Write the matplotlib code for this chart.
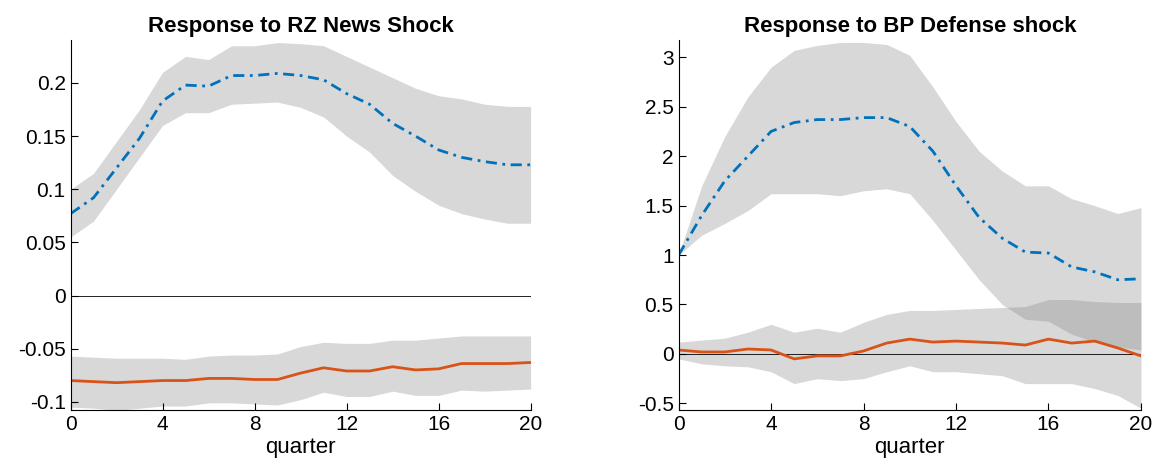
import matplotlib
matplotlib.use("Agg")
import matplotlib.pyplot as plt
import numpy as np
plt.rcParams['font.family'] = ['Liberation Sans', 'DejaVu Sans']

q = np.arange(21)
# Left panel: RZ News Shock
L_blue = [0.077,0.092,0.12,0.148,0.183,0.198,0.197,0.207,0.207,0.209,0.207,0.203,0.19,0.18,0.162,0.15,0.137,0.13,0.126,0.123,0.123]
L_blue_hi = [0.1,0.115,0.145,0.175,0.21,0.225,0.222,0.235,0.235,0.238,0.237,0.235,0.225,0.215,0.205,0.195,0.188,0.185,0.18,0.178,0.178]
L_blue_lo = [0.055,0.07,0.1,0.13,0.16,0.172,0.172,0.18,0.181,0.182,0.177,0.168,0.15,0.135,0.113,0.098,0.085,0.077,0.072,0.068,0.068]
L_red = [-0.08,-0.081,-0.082,-0.081,-0.08,-0.08,-0.078,-0.078,-0.079,-0.079,-0.073,-0.068,-0.071,-0.071,-0.067,-0.07,-0.069,-0.064,-0.064,-0.064,-0.063]
L_red_hi = [-0.057,-0.058,-0.059,-0.059,-0.059,-0.06,-0.057,-0.056,-0.056,-0.055,-0.048,-0.044,-0.045,-0.045,-0.042,-0.042,-0.04,-0.038,-0.038,-0.038,-0.038]
L_red_lo = [-0.105,-0.106,-0.108,-0.106,-0.104,-0.104,-0.101,-0.101,-0.102,-0.103,-0.098,-0.091,-0.095,-0.095,-0.09,-0.094,-0.094,-0.089,-0.09,-0.089,-0.088]
# Right panel: BP Defense shock
R_blue = [1.0,1.4,1.75,2.0,2.25,2.34,2.37,2.37,2.39,2.39,2.3,2.05,1.7,1.38,1.17,1.03,1.02,0.88,0.83,0.75,0.76]
R_blue_hi = [1.0,1.7,2.2,2.6,2.9,3.07,3.12,3.15,3.15,3.13,3.02,2.7,2.35,2.05,1.85,1.7,1.7,1.57,1.5,1.42,1.48]
R_blue_lo = [1.0,1.2,1.32,1.45,1.62,1.62,1.62,1.6,1.65,1.67,1.62,1.35,1.05,0.75,0.5,0.35,0.33,0.2,0.12,0.07,0.04]
R_red = [0.04,0.02,0.02,0.05,0.04,-0.05,-0.02,-0.02,0.03,0.11,0.15,0.12,0.13,0.12,0.11,0.09,0.15,0.11,0.13,0.06,-0.02]
R_red_hi = [0.12,0.14,0.16,0.22,0.3,0.22,0.26,0.22,0.32,0.4,0.44,0.44,0.45,0.46,0.47,0.48,0.55,0.55,0.53,0.52,0.52]
R_red_lo = [-0.05,-0.1,-0.12,-0.13,-0.18,-0.3,-0.25,-0.27,-0.25,-0.18,-0.12,-0.18,-0.18,-0.2,-0.22,-0.3,-0.3,-0.3,-0.35,-0.42,-0.55]

blue = "#0072BD"; red = "#D95319"
fig = plt.figure(figsize=(11.56, 4.76), dpi=100)
ax1 = fig.add_axes([0.061, 0.138, 0.398, 0.777])
ax2 = fig.add_axes([0.587, 0.138, 0.400, 0.777])

def panel(ax, b, bh, bl, r, rh, rl, title, ylim, yticks, ylabels):
    ax.fill_between(q, bl, bh, color="#808080", alpha=0.3, lw=0)
    ax.fill_between(q, rl, rh, color="#808080", alpha=0.3, lw=0)
    ax.axhline(0, color="black", lw=0.6)
    ax.plot(q, b, color=blue, lw=2, dashes=(4, 2, 1, 2))
    ax.plot(q, r, color=red, lw=2)
    ax.set_xlim(0, 20); ax.set_ylim(*ylim)
    ax.set_xticks([0,4,8,12,16,20])
    ax.set_yticks(yticks); ax.set_yticklabels(ylabels)
    ax.set_xlabel("quarter", fontsize=16, labelpad=2)
    ax.set_title(title, fontsize=16, fontweight="bold", pad=6)
    ax.tick_params(direction="in", labelsize=15, length=5)
    for s in ["top", "right"]:
        ax.spines[s].set_visible(False)

panel(ax1, L_blue, L_blue_hi, L_blue_lo, L_red, L_red_hi, L_red_lo,
      "Response to RZ News Shock", (-0.108, 0.24),
      [-0.1,-0.05,0,0.05,0.1,0.15,0.2], ["-0.1","-0.05","0","0.05","0.1","0.15","0.2"])
panel(ax2, R_blue, R_blue_hi, R_blue_lo, R_red, R_red_hi, R_red_lo,
      "Response to BP Defense shock", (-0.57, 3.17),
      [-0.5,0,0.5,1,1.5,2,2.5,3], ["-0.5","0","0.5","1","1.5","2","2.5","3"])
fig.savefig("out.png")
